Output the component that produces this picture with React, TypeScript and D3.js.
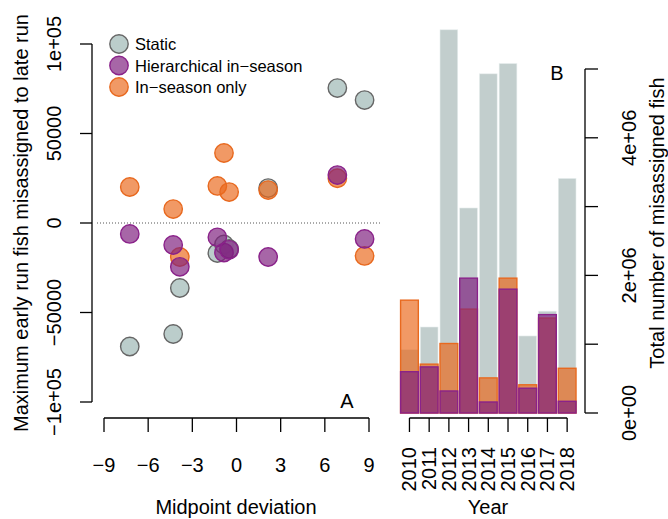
import React from "react";
import * as d3 from "d3";

// ---- Data ----
const midpoint = [-7.25, -4.3, -3.85, -1.3, -0.85, -0.5, 2.15, 6.85, 8.7];
const staticVals = [-69000, -62000, -36300, -16800, -12000, -14500, 19500, 75400, 68700];
const inSeasonVals = [20100, 7800, -19000, 20700, 39100, 17300, 18400, 25000, -18400];
const hierVals = [-6100, -12300, -24500, -8000, -16500, -15000, -19000, 26800, -8900];

const years = ["2010", "2011", "2012", "2013", "2014", "2015", "2016", "2017", "2018"];
const staticTotals = [0.92e6, 1.25e6, 5.57e6, 2.98e6, 4.93e6, 5.08e6, 1.12e6, 1.48e6, 3.41e6];
const inSeasonTotals = [1.64e6, 0.71e6, 1.01e6, 1.51e6, 0.51e6, 1.96e6, 0.41e6, 1.38e6, 0.65e6];
const hierTotals = [0.6e6, 0.67e6, 0.32e6, 1.96e6, 0.16e6, 1.8e6, 0.36e6, 1.43e6, 0.17e6];

const xTicks = [-9, -6, -3, 0, 3, 6, 9];
const yTicks = [-1e5, -5e4, 0, 5e4, 1e5];
const yTickLabels = ["\u22121e+05", "\u221250000", "0", "50000", "1e+05"];
const rTicks = [0, 1e6, 2e6, 3e6, 4e6, 5e6];
const rTickLabels = ["0e+00", "", "2e+06", "", "4e+06", ""];
const legendLabels = ["Static", "Hierarchical in\u2212season", "In\u2212season only"];

// ---- Styles ----
const FONT = "'Liberation Sans', Arial, Helvetica, sans-serif";
const FS = 20;
const staticFill = "rgba(178,198,196,0.88)";
const staticStroke = "#666";
const orangeFill = "rgba(234,104,28,0.68)";
const orangeStroke = "#e8691f";
const purpleFill = "rgba(125,30,125,0.68)";
const purpleStroke = "#8a228a";
const grayBar = "#c2cecd";

const fmtMinus = (n: number) => String(n).replace("-", "\u2212");

export default function App() {
  const x = d3.scaleLinear().domain([-9, 9]).range([104, 369]);
  const y = d3.scaleLinear().domain([-1e5, 1e5]).range([402, 44]);
  const xb = d3.scaleBand<string>().domain(years).range([399.6, 577]).paddingInner(0.1).paddingOuter(0.05);
  const yb = d3.scaleLinear().domain([0, 5e6]).range([413, 69]);
  const r = 9.2;

  const pts = (vals: number[], fill: string, stroke: string, key: string) =>
    vals.map((v, i) => (
      <circle key={key + i} cx={x(midpoint[i])} cy={y(v)} r={r} fill={fill} stroke={stroke} strokeWidth={1.4} />
    ));

  const bars = (vals: number[], fill: string, stroke: string, key: string, sw: number) =>
    vals.map((v, i) => (
      <rect
        key={key + i}
        x={xb(years[i])!}
        y={yb(v)}
        width={xb.bandwidth()}
        height={yb(0) - yb(v)}
        fill={fill}
        stroke={stroke}
        strokeWidth={sw}
      />
    ));

  const legendColors = [
    [staticFill, staticStroke],
    [purpleFill, purpleStroke],
    [orangeFill, orangeStroke],
  ];

  return (
    <svg
      width={668}
      height={519}
      style={{ position: "absolute", left: 0, top: 0, background: "#fff" }}
      fontFamily={FONT}
      fontSize={FS}
    >
      {/* ---------- Panel A ---------- */}
      <line x1={97} x2={382} y1={y(0)} y2={y(0)} stroke="#555" strokeWidth={1} strokeDasharray="1 2" />
      {pts(staticVals, staticFill, staticStroke, "s")}
      {pts(inSeasonVals, orangeFill, orangeStroke, "o")}
      {pts(hierVals, purpleFill, purpleStroke, "h")}

      {/* y axis */}
      <line x1={92} x2={92} y1={y(-1e5)} y2={y(1e5)} stroke="#000" strokeWidth={1.3} />
      {yTicks.map((t, i) => (
        <g key={"yt" + i}>
          <line x1={80} x2={92} y1={y(t)} y2={y(t)} stroke="#000" strokeWidth={1.3} />
          <text
            transform={`translate(54,${y(t)}) rotate(-90)`}
            textAnchor="middle"
            dominantBaseline="central"
          >
            {yTickLabels[i]}
          </text>
        </g>
      ))}
      <text transform={`translate(21,${y(0)}) rotate(-90)`} textAnchor="middle" dominantBaseline="central">
        Maximum early run fish misassigned to late run
      </text>

      {/* x axis */}
      <line x1={x(-9)} x2={x(9)} y1={418} y2={418} stroke="#000" strokeWidth={1.3} />
      {xTicks.map((t, i) => (
        <g key={"xt" + i}>
          <line x1={x(t)} x2={x(t)} y1={418} y2={432} stroke="#000" strokeWidth={1.3} />
          <text x={x(t)} y={472} textAnchor="middle">
            {fmtMinus(t)}
          </text>
        </g>
      ))}
      <text x={236} y={514} textAnchor="middle">
        Midpoint deviation
      </text>
      <text x={347} y={408} textAnchor="middle">
        A
      </text>

      {/* legend */}
      {legendLabels.map((l, i) => (
        <g key={"lg" + i}>
          <circle cx={119} cy={44 + i * 21.5} r={r} fill={legendColors[i][0]} stroke={legendColors[i][1]} strokeWidth={1.4} />
          <text x={135} y={44 + i * 21.5} dominantBaseline="central" fontSize={16.5}>
            {l}
          </text>
        </g>
      ))}

      {/* ---------- Panel B ---------- */}
      {bars(staticTotals, grayBar, "#e8eeee", "sb", 0.6)}
      {bars(inSeasonTotals, orangeFill, orangeStroke, "ob", 1.4)}
      {bars(hierTotals, purpleFill, purpleStroke, "hb", 1.4)}

      {/* year axis */}
      <line x1={xb(years[0])! + xb.bandwidth() / 2} x2={xb(years[8])! + xb.bandwidth() / 2} y1={418} y2={418} stroke="#000" strokeWidth={1.3} />
      {years.map((yr, i) => {
        const cx = xb(yr)! + xb.bandwidth() / 2;
        return (
          <g key={"yr" + i}>
            <line x1={cx} x2={cx} y1={418} y2={432} stroke="#000" strokeWidth={1.3} />
            <text transform={`translate(${cx},447) rotate(-90)`} textAnchor="end" dominantBaseline="central">
              {yr}
            </text>
          </g>
        );
      })}
      <text x={488} y={514} textAnchor="middle">
        Year
      </text>

      {/* right axis */}
      <line x1={585} x2={585} y1={yb(0)} y2={yb(5e6)} stroke="#000" strokeWidth={1.3} />
      {rTicks.map((t, i) => (
        <g key={"rt" + i}>
          <line x1={585} x2={598} y1={yb(t)} y2={yb(t)} stroke="#000" strokeWidth={1.3} />
          {rTickLabels[i] && (
            <text transform={`translate(629,${yb(t)}) rotate(-90)`} textAnchor="middle" dominantBaseline="central">
              {rTickLabels[i]}
            </text>
          )}
        </g>
      ))}
      <text transform={`translate(657,223) rotate(-90)`} textAnchor="middle" dominantBaseline="central">
        Total number of misassigned fish
      </text>
      <text x={557} y={80} textAnchor="middle">
        B
      </text>
    </svg>
  );
}
